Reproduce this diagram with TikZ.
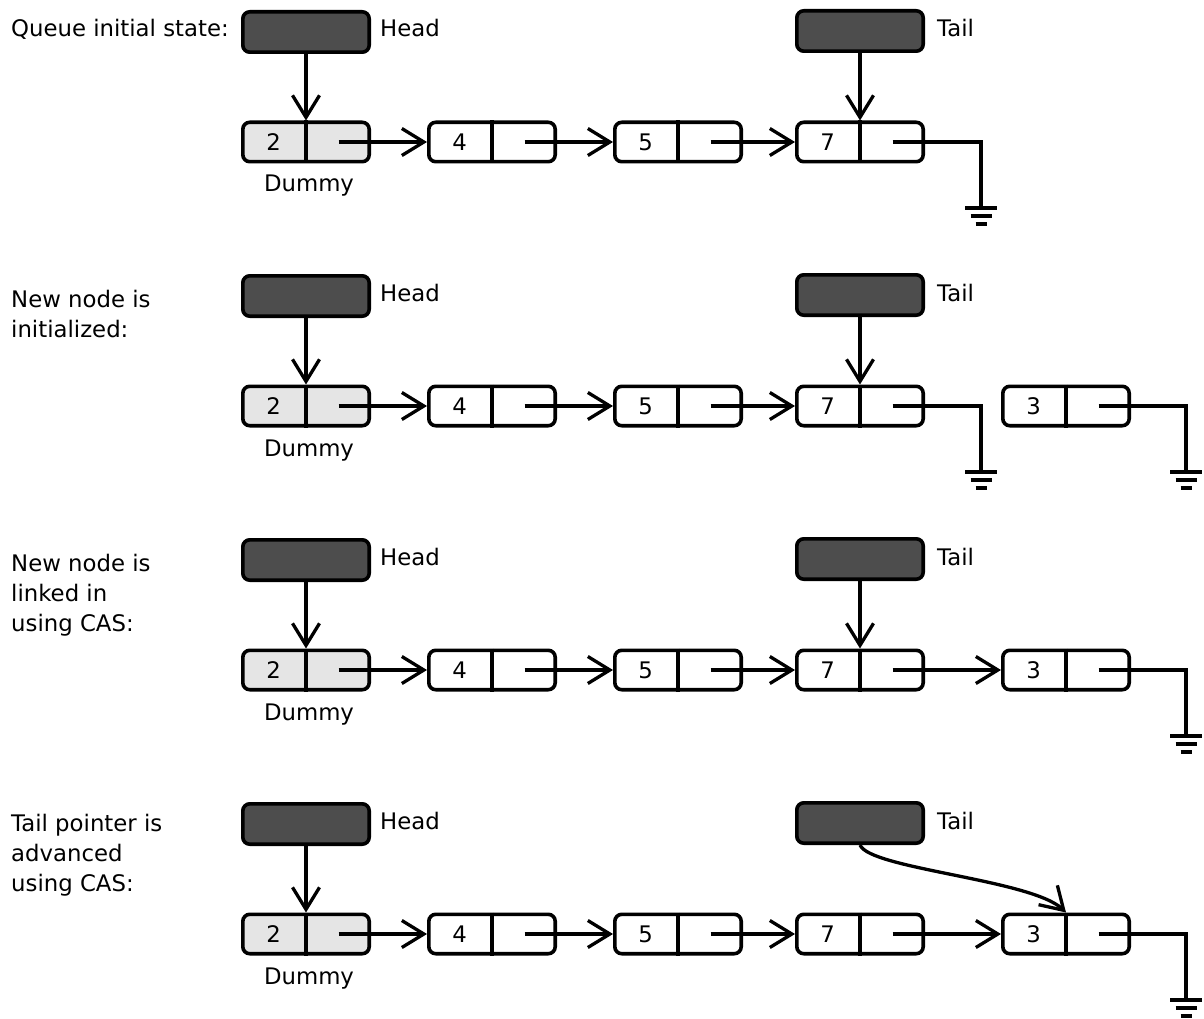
\documentclass[tikz,border=0pt]{standalone}
\usepackage{fontspec}
\setmainfont{DejaVu Sans}
\usetikzlibrary{arrows.meta,calc}
\definecolor{ptrfill}{RGB}{77,77,77}
\definecolor{dummyfill}{RGB}{229,229,229}

\tikzset{
  cell/.style={draw, line width=3.6pt, rounded corners=7pt, minimum width=126.4pt,
    minimum height=39.4pt, inner sep=0pt, fill=white},
  ptrbox/.style={draw, line width=3.6pt, rounded corners=7pt, minimum width=126.4pt,
    minimum height=40.4pt, inner sep=0pt, fill=ptrfill},
  txt/.style={font=\fontsize{22.8}{30}\selectfont, inner sep=0pt},
  link/.style={line width=3.3pt, -{Straight Barb[length=22pt,width=27pt]}},
  wire/.style={line width=3.3pt},
}

% list element: value half on the left, pointer half on the right
\newcommand\qcell[5][]{%
  \node[cell,#1] (#2) at (#3,#4) {};
  \draw[wire] (#2.north) -- (#2.south);
  \node[txt] (#2v) at ($(#2.west)!0.25!(#2.east)$) {#5};
  \coordinate (#2p) at ($(#2.west)!0.75!(#2.east)$);
}

% null pointer: ground symbol hanging below a coordinate
\newcommand\earth[3]{%
  \coordinate (#1) at (#2,#3);
  \draw[wire] ($(#1)+(-16,0)$) -- ($(#1)+(16,0)$)
              ($(#1)+(-10.5,8)$) -- ($(#1)+(10.5,8)$)
              ($(#1)+(-5.5,16)$) -- ($(#1)+(5.5,16)$);
}

\begin{document}
\begin{tikzpicture}[x=1pt, y=-1pt]
  \useasboundingbox (0,0) rectangle (1204,1019);

  % common part of every stage
  \foreach \row in {1,...,4} {
    \pgfmathsetmacro\dy{264*(\row-1)}
    \node[ptrbox] (head\row) at (306,32+\dy) {};
    \node[txt, anchor=base west] (headl\row) at (380,37+\dy) {Head};
    \node[ptrbox] (tail\row) at (860,31+\dy) {};
    \node[txt, anchor=base west] (taill\row) at (937,37+\dy) {Tail};
    \qcell[fill=dummyfill]{n\row a}{306}{142+\dy}{2}
    \qcell{n\row b}{492}{142+\dy}{4}
    \qcell{n\row c}{678}{142+\dy}{5}
    \qcell{n\row d}{860}{142+\dy}{7}
    \node[txt, anchor=base] (dummy\row) at (309,192+\dy) {Dummy};
    \draw[link] (head\row.south) -- (n\row a.north);
    \draw[link] (n\row ap) -- (n\row b.west);
    \draw[link] (n\row bp) -- (n\row c.west);
    \draw[link] (n\row cp) -- (n\row d.west);
  }

  % stage 1: initial state
  \node[txt, anchor=base west] (cap1) at (11,37) {Queue initial state:};
  \draw[link] (tail1.south) -- (n1d.north);
  \earth{g1}{981}{208}
  \draw[wire] (n1dp) -| (g1);

  % stage 2: new node initialized
  \node[txt, anchor=north west, align=left] (cap2) at (11,290) {New node is\\initialized:};
  \draw[link] (tail2.south) -- (n2d.north);
  \earth{g2}{981}{472}
  \draw[wire] (n2dp) -| (g2);
  \qcell{n2e}{1066}{406}{3}
  \earth{g2e}{1186}{472}
  \draw[wire] (n2ep) -| (g2e);

  % stage 3: new node linked in
  \node[txt, anchor=north west, align=left] (cap3) at (11,554) {New node is\\linked in\\using CAS:};
  \draw[link] (tail3.south) -- (n3d.north);
  \qcell{n3e}{1066}{670}{3}
  \draw[link] (n3dp) -- (n3e.west);
  \earth{g3e}{1186}{736}
  \draw[wire] (n3ep) -| (g3e);

  % stage 4: tail pointer advanced
  \node[txt, anchor=north west, align=left] (cap4) at (11,814) {Tail pointer is\\advanced\\using CAS:};
  \qcell{n4e}{1066}{934}{3}
  \draw[link] (n4dp) -- (n4e.west);
  \draw[link] (tail4.south) .. controls +(10,24) and +(-34,-33) .. (n4e.north);
  \earth{g4e}{1186}{1000}
  \draw[wire] (n4ep) -| (g4e);
\end{tikzpicture}
\end{document}
